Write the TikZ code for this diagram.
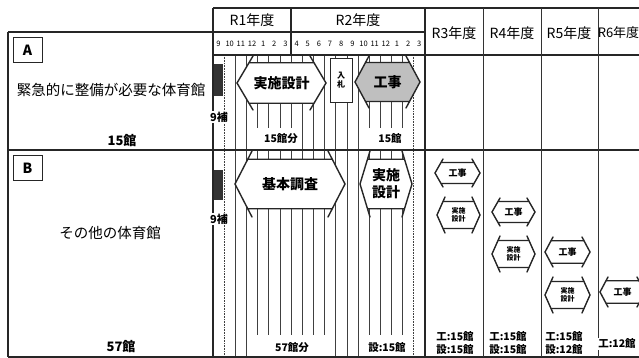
\documentclass[tikz,border=0pt]{standalone}
\usepackage{fontspec}
\newfontfamily\jpfont{Noto Sans CJK JP}

% hexagon with small horns: name, left tip, right tip, centre y, half height, slant, fill, text
\newcommand{\phasehex}[8]{%
  \pgfmathsetmacro\hxa{#2+0.75*#6}%
  \pgfmathsetmacro\hxb{#3-0.75*#6}%
  \pgfmathsetmacro\hyt{#4-0.75*#5}%
  \pgfmathsetmacro\hyb{#4+0.75*#5}%
  \fill[#7] (#2,#4) -- (\hxa,\hyt) -- (\hxb,\hyt) -- (#3,#4) -- (\hxb,\hyb) -- (\hxa,\hyb) -- cycle;
  \draw[hexline] (#2+#6,#4-#5) -- (#2,#4) -- (#2+#6,#4+#5)
                 (#3-#6,#4-#5) -- (#3,#4) -- (#3-#6,#4+#5)
                 (\hxa,\hyt) -- (\hxb,\hyt) (\hxa,\hyb) -- (\hxb,\hyb);
  \node[hextext] (#1) at ({(#2+#3)/2},#4) {#8};
}

\begin{document}
\begin{tikzpicture}[x=1pt,y=-1pt]
        \tikzset{frame/.style={line width=1.3pt,draw=black!85}}
        \tikzset{thinframe/.style={line width=0.8pt,draw=black!80}}
        \tikzset{monthline/.style={line width=0.6pt,draw=black!75}}
        \tikzset{hexline/.style={line width=1.4pt,draw=black!85,line cap=round}}
        \tikzset{hextext/.style={font=\jpfont\bfseries\fontsize{14}{17}\selectfont,align=center,inner sep=0pt}}
        \tikzset{smalltext/.style={font=\jpfont\bfseries\fontsize{8}{9.5}\selectfont,align=center,inner sep=0pt}}
        \tikzset{head/.style={font=\jpfont\fontsize{14}{16}\selectfont,inner sep=0pt}}
        \tikzset{month/.style={font=\jpfont\fontsize{7.5}{8}\selectfont,inner sep=0pt}}
        \tikzset{count/.style={font=\jpfont\bfseries\fontsize{10.5}{12}\selectfont,fill=white,inner sep=1pt}}
        \tikzset{rowname/.style={font=\jpfont\fontsize{14.5}{16}\selectfont,inner sep=0pt}}
        \tikzset{total/.style={font=\jpfont\bfseries\fontsize{13}{15}\selectfont,inner sep=0pt}}
        \tikzset{letter/.style={draw=black!85,line width=1pt,font=\jpfont\bfseries\fontsize{14}{16}\selectfont,minimum width=29pt,minimum height=25pt,inner sep=0pt}}

        \useasboundingbox[fill=white] (0,0) rectangle (639,358);

        % month lines of R1 and R2
        \foreach \k in {2,...,17}
          \draw[monthline] ({213+11.15*\k},55) -- ({213+11.15*\k},357);
        \foreach \k in {1,18}
          \draw[monthline,densely dotted] ({213+11.15*\k},55) -- ({213+11.15*\k},357);

        % table frame
        \draw[frame] (8,32) -- (213,32);
        \draw[frame] (8,32) -- (8,357);
        \draw[frame] (213,8) -- (639,8);
        \draw[frame] (213,8) -- (213,357);
        \draw[frame] (213,32) -- (425,32);
        \draw[frame] (213,55) -- (639,55);
        \draw[frame] (291,8) -- (291,55);
        \draw[frame] (425,8) -- (425,357);
        \draw[frame] (8,150) -- (639,150);
        \draw[frame] (8,357) -- (639,357);
        \draw[thinframe] (483,8) -- (483,357);
        \draw[thinframe] (541,8) -- (541,357);
        \draw[thinframe] (598,8) -- (598,357);

        % header
        \node[head] (r1) at (252,20) {R1年度};
        \node[head] (r2) at (358,20) {R2年度};
        \node[head] (r3) at (454,33) {R3年度};
        \node[head] (r4) at (512,33) {R4年度};
        \node[head] (r5) at (569,33) {R5年度};
        \node[head,font=\jpfont\fontsize{13}{15}\selectfont] (r6) at (618.5,33) {R6年度};
        \foreach \m [count=\k from 0] in {9,10,11,12,1,2,3,4,5,6,7,8,9,10,11,12,1,2,3}
          \node[month] (m\k) at ({213+11.15*(\k+0.5)},44) {\m};

        % left column
        \node[letter] (boxA) at (27.5,50) {A};
        \node[rowname] (nameA) at (111,90) {緊急的に整備が必要な体育館};
        \node[total] (totA) at (122,141) {15館};
        \node[letter] (boxB) at (27.5,168) {B};
        \node[rowname] (nameB) at (110,233) {その他の体育館};
        \node[total] (totB) at (121,347) {57館};

        % finished part (R1)
        \fill[black!80] (214,64) rectangle (223,96);
        \fill[black!80] (214,170) rectangle (223,200);
        \node[count,font=\jpfont\bfseries\fontsize{11}{12}\selectfont] (doneA) at (219,117) {9補};
        \node[count,font=\jpfont\bfseries\fontsize{11}{12}\selectfont] (doneB) at (219,219) {9補};

        % row A
        \phasehex{designA}{237}{326}{83}{27}{16}{white}{実施設計}
        \node[draw=black!85,line width=0.8pt,fill=white,minimum width=22pt,minimum height=44pt,inner sep=0pt,smalltext] (bid) at (341,80) {入\\札};
        \phasehex{workA}{355}{420}{82}{26}{14}{black!25}{工事}
        \fill[white] (255,128) rectangle (301,149);
        \fill[white] (366,128) rectangle (410,149);
        \node[count] (cntA1) at (281,139) {15館分};
        \node[count] (cntA2) at (390,139) {15館};

        % row B
        \phasehex{surveyB}{235}{345}{184}{33}{17}{white}{基本調査}
        \phasehex{designB}{360}{412}{184}{33}{10}{white}{実施\\設計}
        \fill[white] (252,335) rectangle (334,356);
        \fill[white] (366,335) rectangle (410,356);
        \node[count] (cntB1) at (292,348) {57館分};
        \node[count] (cntB2) at (387,348) {設:15館};

        % later years
        \tikzset{hextext/.style={font=\jpfont\bfseries\fontsize{9}{10}\selectfont,align=center,inner sep=0pt}}
        \phasehex{work3}{435}{480}{173}{14}{8}{white}{工事}
        \phasehex{work4}{492}{535}{212}{14}{8}{white}{工事}
        \phasehex{work5}{545}{590}{252}{15}{8}{white}{工事}
        \phasehex{work6}{600}{645}{292}{15}{8}{white}{工事}
        \tikzset{hextext/.style={font=\jpfont\bfseries\fontsize{7}{8.5}\selectfont,align=center,inner sep=0pt}}
        \phasehex{design3}{437}{480}{215}{18}{8}{white}{実施\\設計}
        \phasehex{design4}{492}{535}{254}{18}{8}{white}{実施\\設計}
        \phasehex{design5}{545}{590}{295}{18}{8}{white}{実施\\設計}

        \node[count] (w3) at (455,337) {工:15館};
        \node[count] (d3) at (455,350) {設:15館};
        \node[count] (w4) at (508,337) {工:15館};
        \node[count] (d4) at (508,350) {設:15館};
        \node[count] (w5) at (564,337) {工:15館};
        \node[count] (d5) at (564,350) {設:12館};
        \node[count] (w6) at (617,344) {工:12館};
\end{tikzpicture}
\end{document}
